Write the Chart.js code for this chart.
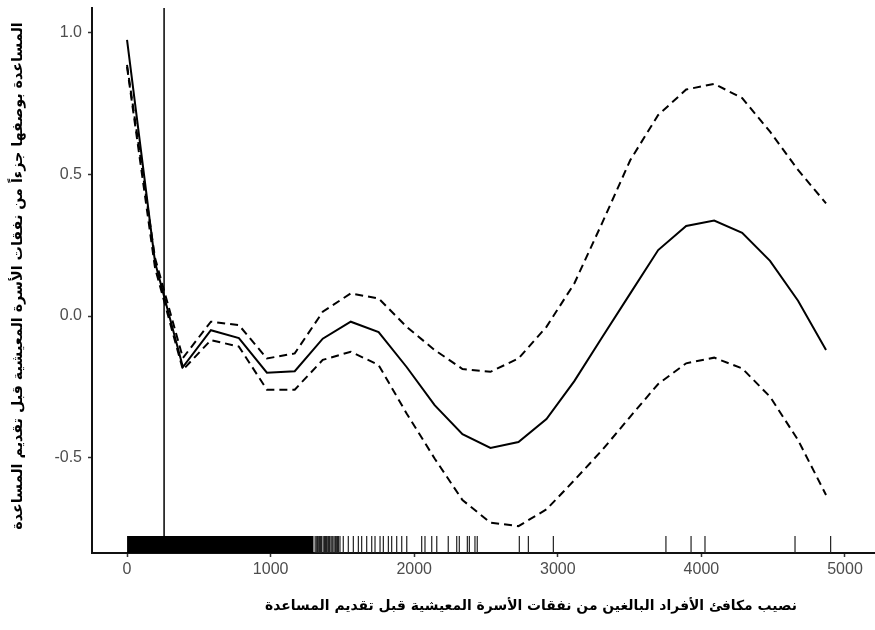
<!DOCTYPE html>
<html>
<head>
<meta charset="utf-8">
<script src="https://cdn.jsdelivr.net/npm/chart.js@4.4.1/dist/chart.umd.min.js"></script>
<style>
  html, body { margin: 0; padding: 0; background: #fff; }
  #wrap { width: 875px; height: 630px; }
</style>
</head>
<body>
<div id="wrap"><canvas id="myChart" width="875" height="630"></canvas></div>
<script>
// values
const x_grid = [0, 195, 389, 584, 779, 974, 1168, 1363, 1558, 1752, 1947, 2142, 2336,
                2531, 2726, 2921, 3115, 3310, 3505, 3699, 3894, 4089, 4284, 4478, 4673, 4868]
const fit_values = [0.975, 0.19, -0.18, -0.05, -0.078, -0.20, -0.195, -0.08, -0.02, -0.057, -0.18, -0.315, -0.417,
                    -0.466, -0.445, -0.364, -0.23, -0.074, 0.08, 0.233, 0.318, 0.337, 0.294, 0.195, 0.054, -0.12]
const upper_values = [0.887, 0.205, -0.148, -0.02, -0.032, -0.15, -0.132, 0.015, 0.08, 0.062, -0.038, -0.12, -0.187,
                      -0.197, -0.15, -0.038, 0.115, 0.33, 0.551, 0.71, 0.80, 0.82, 0.77, 0.651, 0.516, 0.398]
const lower_values = [0.88, 0.17, -0.19, -0.085, -0.108, -0.26, -0.26, -0.155, -0.126, -0.173, -0.344, -0.503, -0.65,
                      -0.73, -0.742, -0.683, -0.58, -0.473, -0.355, -0.24, -0.167, -0.147, -0.185, -0.285, -0.438, -0.632]

// rug: solid block of observations, then the single ticks
const rug_dense_range = [0, 1300]
const rug_ticks = [1310, 1318, 1326, 1332, 1341, 1348, 1355, 1366, 1375, 1382, 1389, 1398, 1404, 1410,
                   1420, 1427, 1433, 1442, 1451, 1460, 1466, 1472, 1483, 1506, 1541, 1576, 1611, 1634,
                   1669, 1704, 1727, 1762, 1785, 1820, 1843, 1878, 1913, 1948, 2052, 2075, 2122, 2157, 2237,
                   2296, 2314, 2370, 2384, 2423, 2439, 2732, 2795, 2969, 3753, 3928, 4025, 4652, 4900]

const cutoff_x = 258

const x_ticks = [0, 1000, 2000, 3000, 4000, 5000]
const y_ticks = [-0.5, 0.0, 0.5, 1.0]
const x_range = [-244, 5209]
const y_range = [-0.837, 1.088]

const x_title = 'نصيب مكافئ الأفراد البالغين من نفقات الأسرة المعيشية قبل تقديم المساعدة'
const y_title = 'المساعدة بوصفها جزءاً من نفقات الأسرة المعيشية قبل تقديم المساعدة'

const RUG_LEN = 0.06
const TITLE_FONT = '"DejaVu Sans", sans-serif'

function to_points(xs, ys){
    return xs.map((x, idx) => { return {x: x, y: ys[idx]} })
}

function fit_font(ctx, text, target_width){
    ctx.font = 'bold 14px ' + TITLE_FONT
    let w = ctx.measureText(text).width
    let size = 14 * target_width / w
    ctx.font = 'bold ' + size.toFixed(2) + 'px ' + TITLE_FONT
}

const arabic_titles = {
    id: 'arabic_titles',
    afterDraw(chart){
        const ctx = chart.ctx
        ctx.save()
        ctx.fillStyle = '#000'
        ctx.textAlign = 'center'
        ctx.textBaseline = 'middle'
        ctx.direction = 'rtl'
        fit_font(ctx, x_title, 532)
        ctx.fillText(x_title, 531, 606)
        ctx.translate(18, 276)
        ctx.rotate(-Math.PI / 2)
        fit_font(ctx, y_title, 508)
        ctx.fillText(y_title, 0, 0)
        ctx.restore()
    }
}

let rug_y = y_range[0] + RUG_LEN / 2

let datasets = [
    {
        label: 'rug block',
        data: [{x: rug_dense_range[0], y: y_range[0] + RUG_LEN}, {x: rug_dense_range[1], y: y_range[0] + RUG_LEN}],
        borderWidth: 0,
        pointRadius: 0,
        backgroundColor: '#000',
        fill: {value: y_range[0]}
    },
    {
        label: 'rug',
        type: 'scatter',
        data: rug_ticks.map((x) => { return {x: x, y: rug_y} }),
        pointStyle: 'line',
        rotation: 90,
        radius: RUG_LEN * 283 / 2,
        borderWidth: 1.2,
        borderColor: '#222',
        showLine: false
    },
    {
        label: 'cutoff',
        data: [{x: cutoff_x, y: y_range[0]}, {x: cutoff_x, y: y_range[1]}],
        borderColor: '#000',
        borderWidth: 1.5,
        pointRadius: 0
    },
    {
        label: 'upper',
        data: to_points(x_grid, upper_values),
        borderColor: '#000',
        borderWidth: 2,
        borderDash: [8, 5],
        pointRadius: 0,
        tension: 0
    },
    {
        label: 'lower',
        data: to_points(x_grid, lower_values),
        borderColor: '#000',
        borderWidth: 2,
        borderDash: [8, 5],
        pointRadius: 0,
        tension: 0
    },
    {
        label: 'fit',
        data: to_points(x_grid, fit_values),
        borderColor: '#000',
        borderWidth: 2,
        pointRadius: 0,
        tension: 0
    }
]

let tick_font = {family: '"Liberation Sans", Arial, sans-serif', size: 16}

let config = {
    type: 'line',
    data: {datasets: datasets},
    options: {
        responsive: false,
        animation: false,
        events: [],
        layout: {autoPadding: false, padding: {top: 8, right: 0, bottom: 0, left: 0}},
        plugins: {legend: {display: false}, tooltip: {enabled: false}},
        scales: {
            x: {
                type: 'linear',
                min: x_range[0],
                max: x_range[1],
                afterBuildTicks: (scale) => { scale.ticks = x_ticks.map((v) => { return {value: v} }) },
                afterFit: (scale) => {
                    scale.height = 77
                    scale.paddingLeft = 0
                    scale.paddingRight = 0
                },
                ticks: {
                    font: tick_font,
                    color: '#4d4d4d',
                    padding: 3,
                    maxRotation: 0,
                    callback: (v) => String(v)
                },
                grid: {display: true, drawOnChartArea: false, drawTicks: true, tickLength: 4, tickColor: '#333', tickWidth: 1.5},
                border: {display: true, color: '#111', width: 2}
            },
            y: {
                type: 'linear',
                min: y_range[0],
                max: y_range[1],
                afterBuildTicks: (scale) => { scale.ticks = y_ticks.map((v) => { return {value: v} }) },
                afterFit: (scale) => {
                    scale.width = 92
                    scale.paddingTop = 0
                    scale.paddingBottom = 0
                },
                ticks: {
                    font: tick_font,
                    color: '#4d4d4d',
                    padding: 6,
                    callback: (v) => v.toFixed(1)
                },
                grid: {display: true, drawOnChartArea: false, drawTicks: true, tickLength: 4, tickColor: '#333', tickWidth: 1.5},
                border: {display: true, color: '#111', width: 2}
            }
        }
    },
    plugins: [arabic_titles]
}

let ctx = document.getElementById('myChart')
let mychart = new Chart(ctx, config)
</script>
</body>
</html>
